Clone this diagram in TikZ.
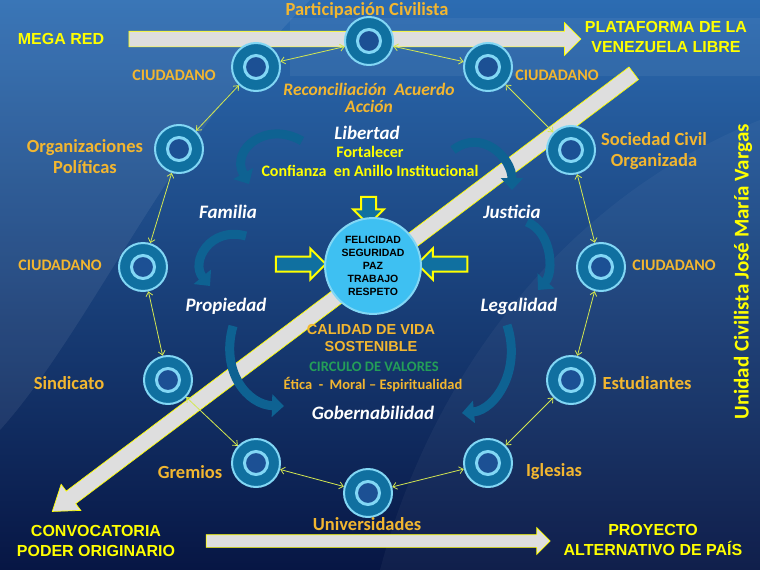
\documentclass[tikz,border=0pt]{standalone}
\usepackage{fontspec}
\setmainfont{Carlito}
\newfontfamily\arialfont{Liberation Sans}
\usetikzlibrary{arrows.meta,shapes.arrows}

\definecolor{bgtop}{RGB}{44,108,178}
\definecolor{bgmid}{RGB}{26,80,152}
\definecolor{bgbot}{RGB}{7,22,68}
\definecolor{gold}{RGB}{242,182,48}
\definecolor{lemon}{RGB}{255,255,0}
\definecolor{ringteal}{RGB}{16,112,160}
\definecolor{ringedge}{RGB}{130,215,245}
\definecolor{ringcore}{RGB}{28,80,148}
\definecolor{linkcol}{RGB}{212,232,80}
\definecolor{curvecol}{RGB}{14,98,146}
\definecolor{corefill}{RGB}{62,192,242}
\definecolor{valgreen}{RGB}{36,158,88}
\definecolor{barfill}{RGB}{222,222,222}

\tikzset{every picture/.style={line width=0.75pt}}

\begin{document}
\begin{tikzpicture}[x=1pt,y=-1pt,
    ring/.style={circle, minimum size=48pt, inner sep=0pt, fill=ringteal, draw=ringedge, line width=2pt,
      path picture={\draw[ringedge, line width=3pt, fill=ringcore] (path picture bounding box.center) circle[radius=11.5pt];}},
    link/.style={linkcol, line width=0.8pt, {Straight Barb[length=4pt,width=7pt]}-{Straight Barb[length=4pt,width=7pt]}},
    bar/.style={single arrow, fill=barfill, draw=lemon, line width=0.7pt, inner xsep=0pt},
    inarrow/.style={single arrow, fill=ringteal, draw=lemon, line width=2pt, inner xsep=0pt, inner ysep=6.5pt,
      minimum width=29pt, single arrow head extend=8pt},
    swirl/.style={curvecol, line width=9pt, -{Triangle[width=22pt,length=12pt]}},
    core/.style={circle, minimum size=92pt, fill=corefill, draw=ringedge, line width=2pt, align=center,
      font=\arialfont\bfseries\fontsize{10.5}{13}\selectfont, text=black},
    lbl/.style={text=gold, font=\bfseries\fontsize{18.5}{21}\selectfont, align=center, inner sep=0pt},
    citizen/.style={text=gold, font=\bfseries\fontsize{16}{19}\selectfont, inner sep=0pt},
    virtue/.style={text=white, font=\bfseries\itshape\fontsize{19}{22}\selectfont, inner sep=0pt},
    motto/.style={text=gold, font=\bfseries\itshape\fontsize{17.5}{17}\selectfont, align=center, inner sep=0pt},
    aim/.style={text=lemon, font=\bfseries\fontsize{16}{19}\selectfont, inner sep=0pt},
    big/.style={text=lemon, font=\arialfont\bfseries\fontsize{16}{20}\selectfont, align=center, inner sep=0pt},
    value/.style={font=\bfseries\fontsize{14.5}{17}\selectfont, inner sep=0pt, align=center}
  ]
  \useasboundingbox (0,0) rectangle (760,570);
  \shade[top color=bgtop, middle color=bgmid, bottom color=bgbot] (0,0) rectangle (760,570);
  \fill[white, opacity=0.07] (0,0) -- (310,0) .. controls (170,140) and (90,330) .. (0,430) -- cycle;
  \fill[white, opacity=0.05] (290,18) rectangle (760,76);
  \fill[white, opacity=0.04] (760,120) .. controls (560,200) and (430,380) .. (380,570) -- (760,570) -- cycle;

  % flechas grandes
  \node[bar, minimum height=452pt, minimum width=32pt, inner ysep=7.5pt, single arrow head extend=8.5pt] (megabar) at (351,39) {};
  \node[bar, minimum height=344pt, minimum width=26pt, inner ysep=6pt, single arrow head extend=7pt] (projbar) at (375,541) {};
  \node[bar, rotate=217, minimum height=728pt, minimum width=32pt, inner ysep=7.5pt, single arrow head extend=8.5pt,
    single arrow tip angle=70] (convbar) at (347.5,289) {};

  % anillo de actores
  \foreach \name/\px/\py in {p0/369/41, p1/256/67, p2/488/67, p3/179/149, p4/571/150, p5/143/267,
      p6/601/267, p7/168/380, p8/571/380, p9/256/463, p10/488/463, p11/368/493}
    \node[ring] (\name) at (\px,\py) {};
  \foreach \a/\b in {p0/p1, p0/p2, p1/p3, p2/p4, p3/p5, p4/p6, p5/p7, p6/p8, p7/p9, p8/p10, p9/p11, p10/p11}
    \draw[link] (\a) -- (\b);

  % ciclo de valores
  \draw[swirl] (302,141) .. controls (266,120) and (230,150) .. (249,184);
  \draw[swirl] (246,236) .. controls (210,226) and (190,262) .. (210,286);
  \draw[swirl] (233,326) .. controls (220,372) and (248,405) .. (284,406);
  \draw[swirl] (453,150) .. controls (482,128) and (512,158) .. (512,190);
  \draw[swirl] (527,222) .. controls (552,232) and (554,272) .. (538,290);
  \draw[swirl] (507,325) .. controls (522,370) and (495,410) .. (462,413);

  \node[inarrow, minimum height=50pt] (inleft) at (297,264) {};
  \node[inarrow, minimum height=50pt, rotate=180] (inright) at (446,264) {};
  \node[inarrow, minimum height=28pt, rotate=-90] (intop) at (368.5,207) {};

  \node[core] (core) at (373,266) {FELICIDAD\\SEGURIDAD\\PAZ\\TRABAJO\\RESPETO};

  % textos
  \node[lbl] (tparticip) at (367,10) {Participación Civilista};
  \node[citizen] (tciud1) at (174,75) {CIUDADANO};
  \node[citizen] (tciud2) at (557,75) {CIUDADANO};
  \node[citizen] (tciud3) at (60,265) {CIUDADANO};
  \node[citizen] (tciud4) at (674,265) {CIUDADANO};
  \node[lbl] (torg) at (85,157) {Organizaciones\\Políticas};
  \node[lbl] (tsoc) at (654,151) {Sociedad Civil\\Organizada};
  \node[lbl] (tsind) at (69,383) {Sindicato};
  \node[lbl] (test) at (647,383) {Estudiantes};
  \node[lbl] (tgrem) at (190,472) {Gremios};
  \node[lbl] (tigl) at (554,472) {Iglesias};
  \node[lbl] (tuniv) at (367,524) {Universidades};

  \node[motto] (tmotto) at (369,98) {Reconciliación~~Acuerdo\\Acción};
  \node[virtue] (tlib) at (367,133) {Libertad};
  \node[aim] (tfort) at (370,152) {Fortalecer};
  \node[aim] (tconf) at (370,171) {Confianza~ en Anillo Institucional};
  \node[virtue] (tfam) at (228,212) {Familia};
  \node[virtue] (tjus) at (512,212) {Justicia};
  \node[virtue] (tprop) at (226,306) {Propiedad};
  \node[virtue] (tleg) at (519,306) {Legalidad};
  \node[value, text=gold, font=\arialfont\bfseries\fontsize{14.5}{17}\selectfont] (tcal) at (371,338) {CALIDAD DE VIDA\\SOSTENIBLE};
  \node[value, text=valgreen] (tcirc) at (374,367) {CIRCULO DE VALORES};
  \node[value, text=gold] (tetic) at (373,385) {Ética~ -~ Moral – Espiritualidad};
  \node[virtue] (tgob) at (373,413) {Gobernabilidad};

  \node[big] (tmega) at (61,39) {MEGA RED};
  \node[big] (tplat) at (666,37) {PLATAFORMA DE LA\\VENEZUELA LIBRE};
  \node[big] (tconv) at (96,541) {CONVOCATORIA\\PODER ORIGINARIO};
  \node[big] (tproy) at (653,540) {PROYECTO\\ALTERNATIVO DE PAÍS};
  \node[rotate=90, text=lemon, font=\bfseries\fontsize{21}{24}\selectfont, inner sep=0pt] (tunidad) at (743,272) {Unidad Civilista José María Vargas};
\end{tikzpicture}
\end{document}
